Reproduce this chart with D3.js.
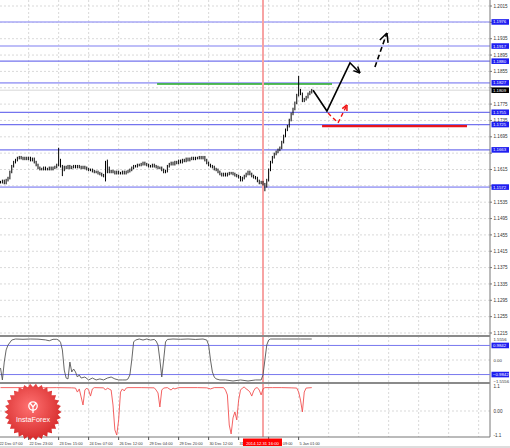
<!DOCTYPE html>
<html><head><meta charset="utf-8">
<script src="https://cdn.jsdelivr.net/npm/d3@7"></script>
<style>body{margin:0;background:#fff}svg{display:block}text{font-family:"Liberation Sans",Arial,sans-serif}</style>
</head><body><svg id="c" width="510" height="448"></svg>
<script>
// ---- data ----
const closes = [
1.1584,1.1587,1.1582,1.1589,1.1594,1.1609,1.1623,1.1633,1.1638,1.1643,
1.1645,1.1643,1.1641,1.1643,1.1641,1.1643,1.1638,1.1641,1.1633,1.1626,
1.1619,1.1616,1.1616,1.1619,1.1616,1.1616,1.1619,1.1616,1.1619,1.1621,
1.1626,1.1638,1.1623,1.1614,1.1621,1.1619,1.1623,1.1619,1.1621,1.1623,
1.1621,1.1623,1.1621,1.1619,1.1621,1.1619,1.1616,1.1614,1.1614,1.1611,
1.1609,1.1609,1.1606,1.1604,1.1601,1.1599,1.1609,1.1619,1.1609,1.1611,
1.1609,1.1606,1.1609,1.1606,1.1606,1.1609,1.1606,1.1609,1.1611,1.1614,
1.1619,1.1623,1.1623,1.1626,1.1626,1.1628,1.1631,1.1628,1.1626,1.1623,
1.1623,1.1626,1.1623,1.1621,1.1619,1.1619,1.1614,1.1609,1.1611,1.1623,
1.1628,1.1631,1.1628,1.1633,1.1631,1.1636,1.1633,1.1638,1.1636,1.1641,
1.1638,1.1641,1.1643,1.1641,1.1643,1.1643,1.1645,1.1643,1.1645,1.1638,
1.1631,1.1626,1.1623,1.1621,1.1616,1.1614,1.1609,1.1604,1.1601,1.1604,
1.1601,1.1604,1.1606,1.1606,1.1604,1.1601,1.1599,1.1596,1.1589,1.1594,
1.1599,1.1604,1.1609,1.1604,1.1599,1.1596,1.1594,1.1587,1.1582,1.1584,
1.1579,1.1574,1.1589,1.1614,1.1633,1.1645,1.1653,1.1658,1.1663,1.1668,
1.1682,1.1697,1.1712,1.1721,1.1736,1.1751,1.1763,1.1778,1.1797,1.1809,
1.1800,1.1783,1.1787,1.1792,1.1800,1.1804,1.1809];
const spikes = [[31,1.1665],[33,1.1602],[56,1.1633],[56,1.1589],[57,1.1636],[141,1.1565],[159,1.1841]];
const lastPrice = 1.1809;
const priceTicks = [1.2015,1.1975,1.1935,1.1895,1.1855,1.1815,1.1775,1.1735,1.1695,1.1655,1.1615,1.1575,1.1535,1.1495,1.1455,1.1415,1.1375,1.1335,1.1295,1.1255,1.1215];
const levelsLight = [1.1976,1.1917,1.1827,1.1572];
const levelsStrong = [1.1880,1.1755,1.1725,1.1663];
const timeTicks = [[-1,"22 Dec 07:00"],[15,"22 Dec 23:00"],[31,"23 Dec 15:00"],[47,"24 Dec 07:00"],[63,"26 Dec 12:00"],[79,"29 Dec 04:00"],[95,"29 Dec 20:00"],[111,"30 Dec 12:00"],[127,"31 Dec 04:00"],[143,"2 Jan 09:00"],[159,"5 Jan 01:00"]];
const markerBar = 140, markerLabel = "2014.12.31 16:00";
const greenLevel = {from:83.5, to:176.8, v:1.1824};
const redLevel = {from:171.5, to:248.8, v:1.1721};
const blackPath = [[166.7,1.1809],[174.1,1.1758],[186.4,1.1876],[191.7,1.1851]];
const dashPath = [[199.7,1.1866],[206.1,1.1949]];
const redDashPath = [[174.7,1.1753],[180,1.1729],[184.8,1.1773]];
const osc1Ticks = [1.5556,0.00,-1.5556], osc1Levels = [0.9842,-0.9842];
const osc1 = [[0,-0.54],[1,-1.35],[2,-0.14],[3,0.68],[4,1.01],[6,1.35],[8,1.42],[12,1.40],[16,1.42],[20,1.41],[24,1.36],[26,1.30],[28,1.40],[30,1.40],[31,1.35],[32,1.20],[33,0.68],[34,-0.68],[35,-1.22],[36,-1.28],[37,-0.14],[38,-0.81],[39,-0.61],[40,-0.81],[41,-1.15],[42,-1.01],[43,-1.22],[45,-1.15],[47,-1.35],[49,-1.22],[51,-1.35],[53,-1.28],[55,-1.35],[57,-1.22],[59,-1.15],[61,-1.28],[63,-1.35],[65,-1.35],[67,-1.35],[68,-1.28],[69,-1.01],[70,0],[71,1.22],[72,1.35],[74,1.42],[76,1.35],[78,1.42],[80,1.35],[82,1.39],[83,1.28],[84,1.01],[85,0],[86,-1.15],[87,0],[88,1.22],[89,1.39],[92,1.42],[96,1.40],[100,1.42],[104,1.39],[108,1.42],[110,1.35],[111,1.01],[112,0],[113,-0.81],[114,-1.15],[115,-1.28],[117,-1.35],[120,-1.35],[124,-1.42],[128,-1.35],[132,-1.42],[136,-1.35],[139,-1.35],[140,-1.01],[141,0],[142,1.01],[143,1.35],[144,1.42],[150,1.42],[160,1.42],[166,1.42]];
const osc2Ticks = [1.1,0.00,-1.1];
const osc2 = [[0,1.05],[10,1.05],[20,1.04],[30,1.05],[38,1.04],[40,1.03],[41,0.85],[42,0.99],[43,0.63],[44,0.27],[45,0.94],[46,1.03],[47,0.94],[48,0.67],[49,0.99],[50,1.05],[55,1.04],[56,0.94],[57,1.03],[59,0.94],[60,0.27],[61,-0.85],[62,-1.08],[63,-0.40],[64,0.85],[65,0.99],[66,0.90],[67,1.03],[68,1.05],[75,1.05],[82,1.04],[83,0.94],[84,0.81],[85,0.18],[86,0.94],[87,1.03],[89,1.05],[91,0.94],[92,1.03],[93,0.99],[95,1.05],[105,1.05],[110,1.04],[112,0.99],[114,1.05],[119,1.05],[120,0.94],[121,0.72],[122,-0.63],[123,-1.03],[124,-0.31],[125,-0.04],[126,-0.40],[127,0.49],[128,0.94],[129,1.03],[130,1.08],[131,0.99],[132,0.94],[133,0.85],[134,0.67],[135,0.90],[136,1.03],[137,1.05],[138,0.94],[139,0.72],[140,0.99],[141,1.05],[145,1.05],[150,1.05],[155,1.04],[158,1.03],[159,0.85],[160,0.49],[161,-0.04],[162,0.85],[163,1.03],[166,1.05]];

// ---- layout ----
const R = 490, mainBot = 336, p1Top = 337, p1Bot = 383, p2Top = 384, p2Bot = 437;
const svg = d3.select("#c");
const x = d3.scaleLinear().domain([0,261]).range([0.5, 0.5+261*1.875]);
const y = d3.scaleLinear().domain([1.1215,1.2015]).range([333,6]);
const y1 = d3.scaleLinear().domain([-1.5556,1.5556]).range([383,337]);
const y2 = d3.scaleLinear().domain([-1.1,1.1]).range([435.5,386.5]);
const fmt4 = d3.format(".4f");

svg.append("rect").attr("width",510).attr("height",448).attr("fill","#fff");
const grid = svg.append("g").attr("stroke","#cfcfcf").attr("stroke-width",0.8).attr("stroke-dasharray","2,2");
d3.range(-1, 262, 16).forEach(i => {
  grid.append("line").attr("x1",x(i)).attr("x2",x(i)).attr("y1",0).attr("y2",p2Bot);
});
priceTicks.forEach(v => grid.append("line").attr("x1",0).attr("x2",R).attr("y1",y(v)).attr("y2",y(v)));
grid.append("line").attr("x1",0).attr("x2",R).attr("y1",y1(0)).attr("y2",y1(0));
grid.append("line").attr("x1",0).attr("x2",R).attr("y1",y2(0)).attr("y2",y2(0));

svg.append("line").attr("x1",0).attr("x2",R).attr("y1",y(lastPrice)).attr("y2",y(lastPrice)).attr("stroke","#d8d8d8").attr("stroke-width",1);

levelsLight.forEach(v => svg.append("line").attr("x1",0).attr("x2",R).attr("y1",y(v)).attr("y2",y(v)).attr("stroke","#a9a9f6").attr("stroke-width",1.6));
levelsStrong.forEach(v => svg.append("line").attr("x1",0).attr("x2",R).attr("y1",y(v)).attr("y2",y(v)).attr("stroke","#7474ee").attr("stroke-width",1.2));
svg.append("line").attr("x1",x(greenLevel.from)).attr("x2",x(greenLevel.to)).attr("y1",y(greenLevel.v)).attr("y2",y(greenLevel.v)).attr("stroke","#22aa22").attr("stroke-width",1.5);
svg.append("line").attr("x1",x(redLevel.from)).attr("x2",x(redLevel.to)).attr("y1",y(redLevel.v)).attr("y2",y(redLevel.v)).attr("stroke","#e8141e").attr("stroke-width",2.2);

svg.append("line").attr("x1",x(markerBar)).attr("x2",x(markerBar)).attr("y1",0).attr("y2",p2Bot).attr("stroke","#f7a3a3").attr("stroke-width",2);

const bars = svg.append("g").attr("stroke","#000").attr("stroke-width",1);
closes.forEach((c,i) => {
  const o = i>0 ? closes[i-1] : c;
  let hi = Math.max(o,c), lo = Math.min(o,c);
  spikes.filter(s=>s[0]===i).forEach(s=>{ hi=Math.max(hi,s[1]); lo=Math.min(lo,s[1]); });
  bars.append("line").attr("x1",x(i)).attr("x2",x(i)).attr("y1",y(hi)-1.3).attr("y2",y(lo)+1.3);
});

const line = d3.line().x(d=>x(d[0])).y(d=>y(d[1]));
function arrowHead(g, p0, p1, color, len) {
  const ax = x(p1[0]), ay = y(p1[1]), bx = x(p0[0]), by = y(p0[1]);
  const ang = Math.atan2(by-ay, bx-ax);
  [0.45,-0.45].forEach(a => g.append("line").attr("x1",ax).attr("y1",ay)
    .attr("x2",ax+len*Math.cos(ang+a)).attr("y2",ay+len*Math.sin(ang+a))
    .attr("stroke",color).attr("stroke-width",1.5));
}
const ann = svg.append("g");
ann.append("path").attr("d",line(blackPath)).attr("fill","none").attr("stroke","#000").attr("stroke-width",1.6);
arrowHead(ann, blackPath[2], blackPath[3], "#000", 7);
ann.append("path").attr("d",line(dashPath)).attr("fill","none").attr("stroke","#000").attr("stroke-width",1.6).attr("stroke-dasharray","5,3");
arrowHead(ann, dashPath[0], dashPath[1], "#000", 10);
ann.append("path").attr("d",line(redDashPath)).attr("fill","none").attr("stroke","#f01010").attr("stroke-width",1.4).attr("stroke-dasharray","4,3");
arrowHead(ann, redDashPath[1], redDashPath[2], "#f01010", 6);

svg.append("line").attr("x1",R).attr("x2",R).attr("y1",0).attr("y2",p2Bot).attr("stroke","#777").attr("stroke-width",1);
[mainBot, p1Bot].forEach(yy => svg.append("line").attr("x1",0).attr("x2",R).attr("y1",yy).attr("y2",yy).attr("stroke","#8a8a8a").attr("stroke-width",2));
svg.append("line").attr("x1",0).attr("x2",R).attr("y1",p2Bot).attr("y2",p2Bot).attr("stroke","#777").attr("stroke-width",1);
svg.append("line").attr("x1",0).attr("x2",510).attr("y1",447).attr("y2",447).attr("stroke","#bbb").attr("stroke-width",1);

// price axis: labels hidden behind level boxes are not shown (as in the reference)
const boxYs = levelsLight.concat(levelsStrong, [lastPrice]).map(v => y(v));
const axT = svg.append("g").attr("font-size",4.6).attr("fill","#333");
priceTicks.forEach(v => {
  axT.append("line").attr("x1",R).attr("x2",R+2).attr("y1",y(v)).attr("y2",y(v)).attr("stroke","#777");
  if (boxYs.some(b => Math.abs(b - y(v)) < 3.6)) return;
  axT.append("text").attr("x",R+3.5).attr("y",y(v)).attr("dy","0.35em").text(fmt4(v));
});
function box(v, yy, fill) {
  svg.append("rect").attr("x",R+1.5).attr("y",yy-2.8).attr("width",17.5).attr("height",5.6).attr("fill",fill);
  svg.append("text").attr("x",R+3).attr("y",yy).attr("dy","0.35em").attr("font-size",4.3).attr("fill","#fff").text(v);
}
levelsLight.concat(levelsStrong).forEach(v => box(fmt4(v), y(v), "#1f1ff0"));
box(fmt4(lastPrice), y(lastPrice), "#000");

// oscillator 1
svg.append("g").selectAll("line").data(osc1Levels).join("line").attr("x1",0).attr("x2",R)
  .attr("y1",d=>y1(d)).attr("y2",d=>y1(d)).attr("stroke","#7878ee").attr("stroke-width",1);
svg.append("path").attr("d",d3.line().x(d=>x(d[0])).y(d=>y1(d[1]))(osc1)).attr("fill","none").attr("stroke","#555").attr("stroke-width",0.9);
osc1Ticks.forEach((v,k) => {
  const yy = y1(v) + (k===0?2.0:(k===2?-2.0:0));
  axT.append("text").attr("x",R+3.5).attr("y",yy).attr("dy","0.35em").attr("font-size",4.3).text(v===0?"0.00":fmt4(v));
});
osc1Levels.forEach(v => box(fmt4(v), y1(v), "#1f1ff0"));

// oscillator 2
svg.append("path").attr("d",d3.line().x(d=>x(d[0])).y(d=>y2(d[1]))(osc2)).attr("fill","none").attr("stroke","#f25050").attr("stroke-width",0.9);
osc2Ticks.forEach(v => axT.append("text").attr("x",R+3.5).attr("y",y2(v)).attr("dy","0.35em").text(v===0?"0.00":String(v)));

// time axis (labels partly covered by the marker box keep only their visible part)
const mx = x(markerBar), boxL = mx-20, boxR = mx+19;
const tx = svg.append("g").attr("font-size",3.9).attr("fill","#333");
timeTicks.forEach(([i,l]) => {
  const xi = x(i);
  tx.append("line").attr("x1",xi).attr("x2",xi).attr("y1",p2Bot).attr("y2",p2Bot+3).attr("stroke","#555");
  const w = l.length*1.95;
  if (xi < boxL && xi + w > boxL) {
    tx.append("text").attr("x",xi+0.8).attr("y",444.5).text(l.split(" ")[0]);
  } else if (xi > boxL && xi < boxR) {
    const parts = l.split(" ");
    tx.append("text").attr("x",boxR+0.8).attr("y",444.5).text(parts[parts.length-1]);
  } else {
    tx.append("text").attr("x",xi+0.8).attr("y",444.5).text(l);
  }
});
svg.append("rect").attr("x",boxL).attr("y",438.5).attr("width",39).attr("height",7.5).attr("fill","#f00");
svg.append("text").attr("x",mx-0.5).attr("y",444.5).attr("text-anchor","middle").attr("font-size",4.2).attr("fill","#fff").text(markerLabel);

// logo
const cx = 33, cy = 412, n = 30;
const defs = svg.append("defs");
const rg = defs.append("radialGradient").attr("id","lg").attr("cx","45%").attr("cy","40%").attr("r","60%");
rg.append("stop").attr("offset","0%").attr("stop-color","#ff6a6a");
rg.append("stop").attr("offset","100%").attr("stop-color","#d42020");
const pts = d3.range(n*2).map(k => { const a = Math.PI*k/n, r = k%2?25:28.5; return [cx+r*Math.cos(a), cy+r*Math.sin(a)]; });
const logo = svg.append("g");
logo.append("polygon").attr("points",pts.map(p=>p.join(",")).join(" ")).attr("fill","url(#lg)").attr("opacity",0.95);
logo.append("circle").attr("cx",cx).attr("cy",cy-6).attr("r",4.2).attr("fill","none").attr("stroke","#fff").attr("stroke-width",1.3);
logo.append("path").attr("d",`M${cx-3},${cy-9} L${cx},${cy-5} L${cx+3},${cy-9} M${cx},${cy-5} L${cx},${cy+1}`).attr("stroke","#fff").attr("stroke-width",1.3).attr("fill","none");
logo.append("text").attr("x",cx).attr("y",cy+10).attr("text-anchor","middle").attr("font-size",7.2).attr("fill","#fff").text("InstaForex");
</script></body></html>
